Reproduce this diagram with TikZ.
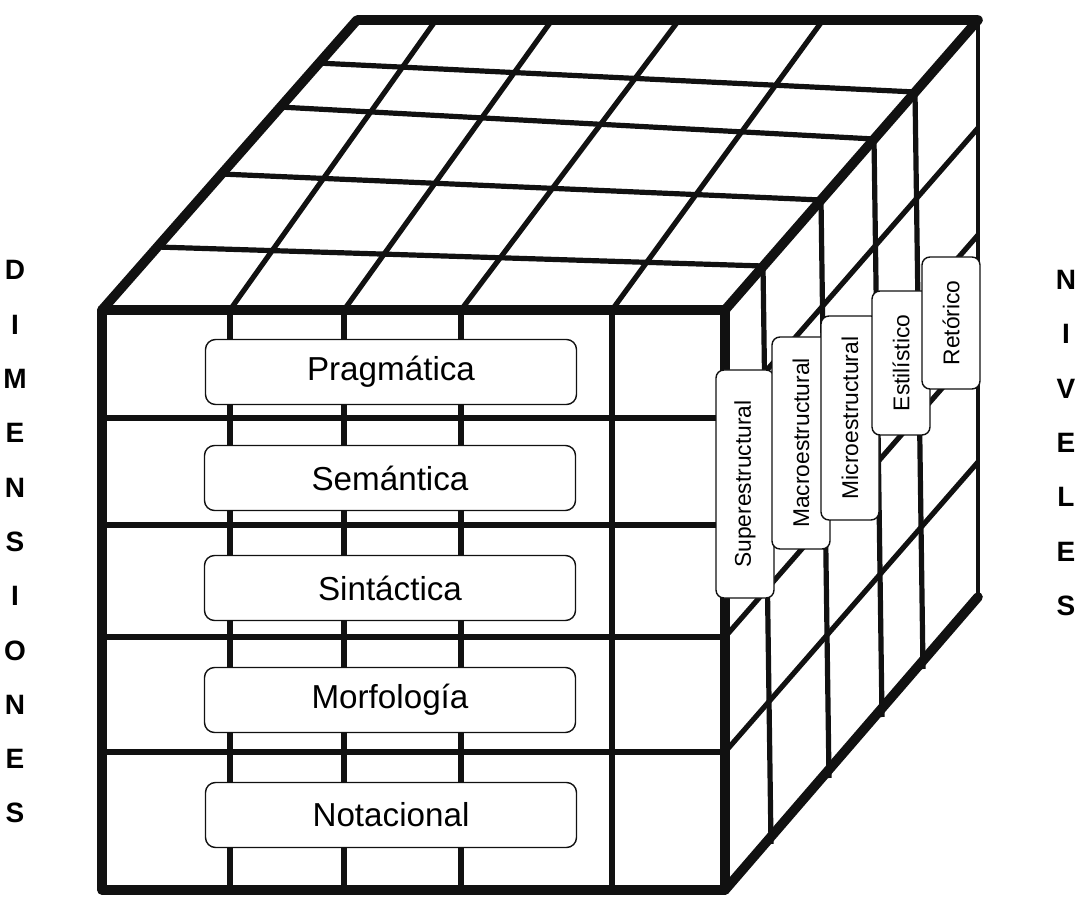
\documentclass[tikz,border=0pt]{standalone}
\usepackage{fontspec}
\setmainfont{Liberation Sans}
\usepackage{tikz}
\usetikzlibrary{positioning}
\definecolor{ink}{HTML}{111111}

\tikzset{
  edgeline/.style={ink, line width=4.8pt, line join=round, line cap=round},
  backline/.style={ink, line width=2pt},
  gridline/.style={ink, line width=2.6pt},
  labelbox/.style={draw=ink, line width=0.7pt, rounded corners=5pt, fill=white,
    minimum width=185.5pt, minimum height=32.5pt, inner sep=0pt},
  levelbox/.style={draw=ink, line width=0.7pt, rounded corners=4pt, fill=white,
    rotate=90, minimum height=29pt, inner sep=0pt, font=\fontsize{11.4}{13}\selectfont},
  lettercol/.style={align=center, font=\fontsize{14}{27.15}\selectfont\bfseries}
}

\begin{document}
\begin{tikzpicture}[x=0.5pt, y=-0.5pt,
                    every node/.style={font=\fontsize{16.6}{19}\selectfont}]
  \useasboundingbox (0,0) rectangle (1081,897);
  % corners of the cube
  \coordinate (ftl) at (102,310);
  \coordinate (ftr) at (725,310);
  \coordinate (fbl) at (102,890);
  \coordinate (fbr) at (725,890);
  \coordinate (btl) at (357,20);
  \coordinate (btr) at (978,20);
  \coordinate (bbr) at (978,597);

  % front face grid
  \foreach \gx in {230,344,461,612}
    \draw[gridline] (\gx,310) -- (\gx,890);
  \foreach \gy in {418,525,637,752}
    \draw[gridline] (102,\gy) -- (725,\gy);
  % top face grid
  \foreach \fx/\bx in {230/436,344/552,461/679,612/823}
    \draw[gridline] (\fx,310) -- (\bx,20);
  \foreach \lx/\ly/\rx/\ry in {317/63/915/92, 279/107/874/139,
                               221/174/821/200, 157/247/763/266}
    \draw[gridline] (\lx,\ly) -- (\rx,\ry);
  % right face grid
  \foreach \tx/\ty/\by in {763/266/844, 821/200/778, 874/139/717, 915/92/669}
    \draw[gridline] (\tx,\ty) -- (\tx+8,\by);
  \foreach \gy in {418,525,637,752}
    \draw[gridline] (725,\gy) -- (978,\gy-290);

  % outline
  \draw[edgeline] (ftl) -- (ftr) -- (fbr) -- (fbl) -- cycle;
  \draw[edgeline] (ftl) -- (btl) -- (btr) -- (ftr);
  \draw[edgeline] (fbr) -- (bbr);
  \draw[backline] (btr) -- (bbr);

  % dimensions on the front
  \node[labelbox] (prag) at (391,372) {Pragmática};
  \node[labelbox] (sem)  at (390,478) {Semántica};
  \node[labelbox] (sint) at (390,588) {Sintáctica};
  \node[labelbox] (morf) at (390,700) {Morfología};
  \node[labelbox] (nota) at (391,815) {Notacional};

  % levels on the side
  \node[levelbox, minimum width=114pt] (super) at (745,484) {Superestructural};
  \node[levelbox, minimum width=106pt] (macro) at (801,443) {Macroestructural};
  \node[levelbox, minimum width=102pt] (micro) at (850,418) {Microestructural};
  \node[levelbox, minimum width=72pt]  (estil) at (901,363) {Estilístico};
  \node[levelbox, minimum width=66pt]  (retor) at (951,323) {Retórico};

  % side captions
  \node[lettercol] (dim) at (15,542) {D\\I\\M\\E\\N\\S\\I\\O\\N\\E\\S};
  \node[lettercol] (niv) at (1066,443) {N\\I\\V\\E\\L\\E\\S};
\end{tikzpicture}
\end{document}
